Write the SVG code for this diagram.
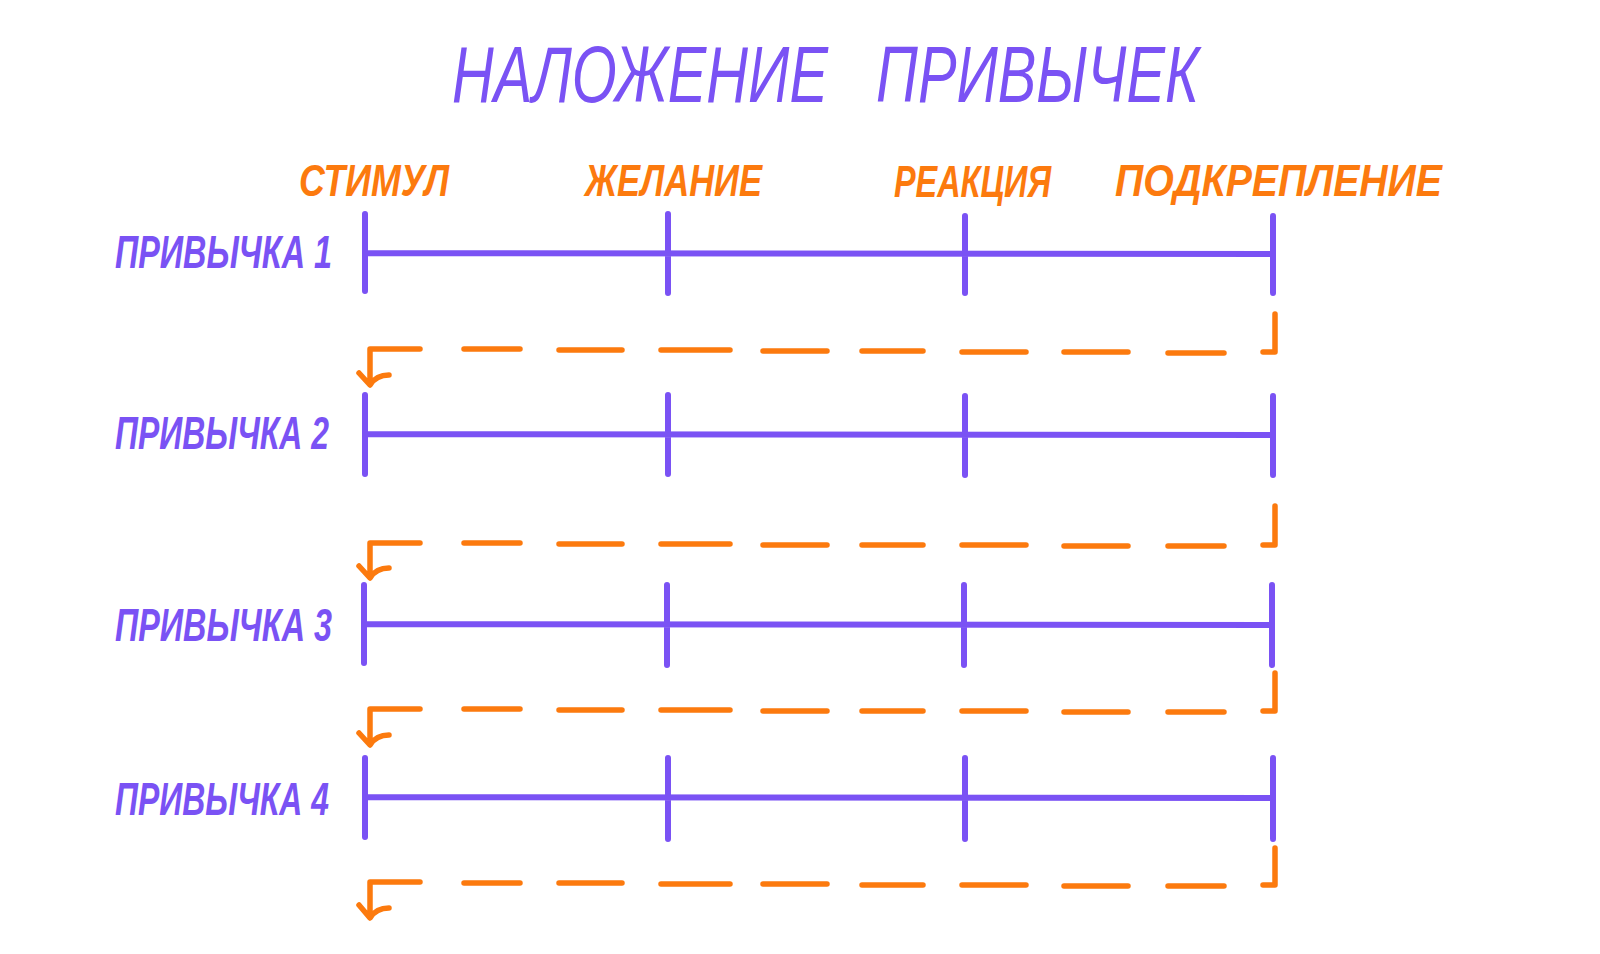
<svg xmlns="http://www.w3.org/2000/svg" width="1600" height="954" viewBox="0 0 1600 954">
<style>
.t{font-family:"Liberation Sans",Arial,sans-serif;font-weight:bold;font-style:italic}
.title{fill:#7a52f4;font-size:80px;font-weight:normal}
.lab{fill:#7a52f4;font-size:46px}
.stage{fill:#fc7a0e;font-size:44px}
.axis{stroke:#7a52f4;stroke-width:6;stroke-linecap:round;fill:none}
.loop{stroke:#fc7a0e;stroke-width:5.5;stroke-linecap:round;stroke-linejoin:round;fill:none}
</style>
<rect width="1600" height="954" fill="#ffffff"/>
<g id="title">
<text class="t title" x="452" y="102" textLength="747" lengthAdjust="spacingAndGlyphs" xml:space="preserve">НАЛОЖЕНИЕ   ПРИВЫЧЕК</text>
</g>
<g id="stages">
<text class="t stage" x="299" y="196" textLength="150" lengthAdjust="spacingAndGlyphs">СТИМУЛ</text>
<text class="t stage" x="585" y="196" textLength="177" lengthAdjust="spacingAndGlyphs">ЖЕЛАНИЕ</text>
<text class="t stage" x="894" y="197" textLength="157" lengthAdjust="spacingAndGlyphs">РЕАКЦИЯ</text>
<text class="t stage" x="1115" y="196" textLength="327" lengthAdjust="spacingAndGlyphs">ПОДКРЕПЛЕНИЕ</text>
</g>
<g id="habit1">
<text class="t lab" x="115" y="268" textLength="217" lengthAdjust="spacingAndGlyphs">ПРИВЫЧКА 1</text>
<path class="axis" d="M365,253 L1273,254 M365,214 V291 M668,214 V293 M965,216 V293 M1273,216 V293"/>
</g>
<g id="habit2">
<text class="t lab" x="115" y="449" textLength="214" lengthAdjust="spacingAndGlyphs">ПРИВЫЧКА 2</text>
<path class="axis" d="M365,434 L1273,435 M365,395 V474 M668,395 V474 M965,396 V475 M1273,396 V475"/>
</g>
<g id="habit3">
<text class="t lab" x="115" y="641" textLength="217" lengthAdjust="spacingAndGlyphs">ПРИВЫЧКА 3</text>
<path class="axis" d="M364,624 L1272,625 M364,585 V663 M667,585 V665 M964,585 V665 M1272,585 V665"/>
</g>
<g id="habit4">
<text class="t lab" x="115" y="815" textLength="214" lengthAdjust="spacingAndGlyphs">ПРИВЫЧКА 4</text>
<path class="axis" d="M365,797 L1273,798 M365,758 V837 M668,758 V839 M965,758 V839 M1273,758 V839"/>
</g>
<g id="connectors">
<path class="loop" d="M1275,314 V352 H1263 M1224,353 H1168 M1128,352 H1064 M1026,352 H962 M923,351 H862 M827,351 H763 M730,350 H661 M622,350 H559 M520,349 H464 M420,349 H370 V384 M359,373 L370,385 Q376,375 389,375"/>
<path class="loop" d="M1275,506 V545 H1263 M1224,546 H1168 M1128,546 H1064 M1026,545 H962 M923,545 H862 M827,545 H763 M730,544 H661 M622,544 H559 M520,543 H464 M420,543 H370 V577 M359,566 L370,578 Q376,568 389,568"/>
<path class="loop" d="M1275,673 V711 H1263 M1224,712 H1168 M1128,712 H1064 M1026,711 H962 M923,711 H862 M827,711 H763 M730,710 H661 M622,710 H559 M520,709 H464 M420,709 H370 V744 M359,733 L370,745 Q376,735 389,735"/>
<path class="loop" d="M1275,848 V885 H1263 M1224,886 H1168 M1128,886 H1064 M1026,885 H962 M923,885 H862 M827,884 H763 M730,884 H661 M622,883 H559 M520,883 H464 M420,882 H370 V917 M359,905 L370,918 Q376,908 389,908"/>
</g>
</svg>
